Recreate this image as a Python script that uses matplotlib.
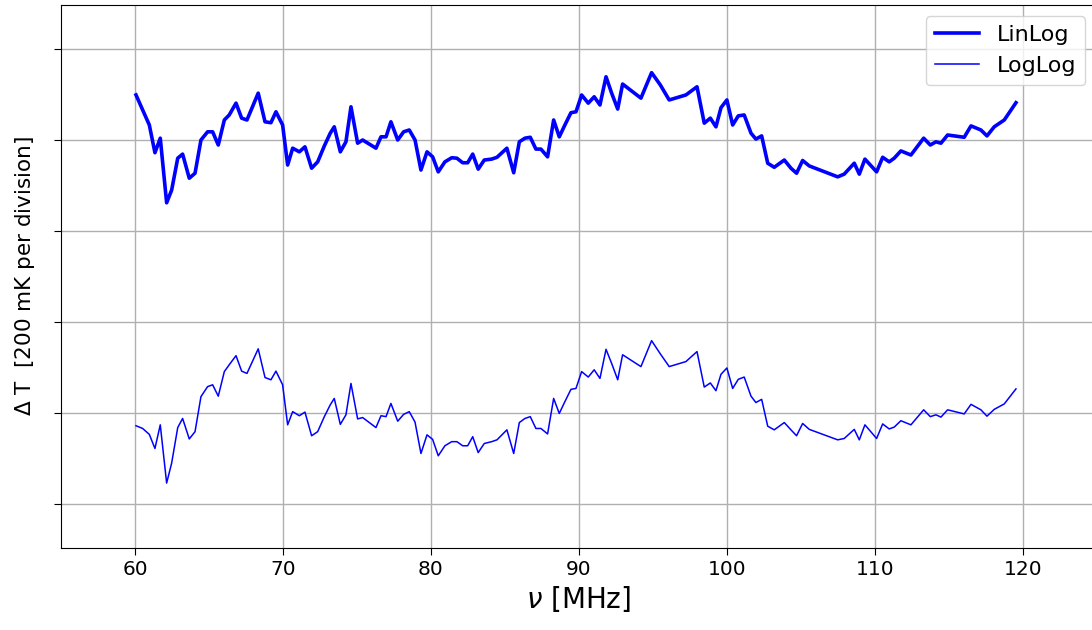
import matplotlib
matplotlib.use("Agg")
import matplotlib.pyplot as plt

# Frequency grid [MHz]
freq = [60.07, 60.52, 60.97, 61.35, 61.71, 62.14, 62.48, 62.89, 63.22, 63.67,
        64.06, 64.46, 64.91, 65.25, 65.63, 66.04, 66.37, 66.83, 67.21, 67.57,
        68.33, 68.79, 69.19, 69.53, 69.98, 70.32, 70.66, 71.11, 71.49, 71.94,
        72.35, 72.80, 73.20, 73.47, 73.88, 74.26, 74.60, 75.05, 75.39, 76.29,
        76.63, 76.97, 77.30, 77.76, 78.16, 78.54, 78.93, 79.33, 79.74, 80.12,
        80.50, 80.95, 81.41, 81.76, 82.15, 82.49, 82.83, 83.20, 83.61, 84.11,
        84.47, 85.14, 85.60, 85.98, 86.36, 86.72, 87.10, 87.44, 87.89, 88.30,
        88.68, 89.06, 89.47, 89.81, 90.19, 90.64, 91.04, 91.43, 91.84, 92.22,
        92.63, 92.96, 94.20, 94.92, 95.51, 96.11, 97.24, 97.99, 98.48, 98.89,
        99.27, 99.61, 100.01, 100.40, 100.78, 101.18, 101.64, 101.97, 102.36, 102.77,
        103.21, 103.89, 104.34, 104.72, 105.13, 105.58, 107.50, 107.94, 108.62, 108.96,
        109.34, 110.13, 110.54, 110.98, 111.32, 111.77, 112.45, 113.31, 113.76, 114.14,
        114.48, 114.93, 116.05, 116.51, 117.18, 117.59, 118.08, 118.76, 119.55]

# Residuals in mK (arbitrary offsets, 200 mK per grid division)
linlog = [899, 866, 833, 772, 804, 662, 690, 760, 769, 716,
          727, 800, 818, 818, 789, 844, 855, 881, 848, 844,
          903, 840, 838, 862, 833, 745, 782, 774, 785, 738,
          752, 787, 815, 829, 774, 796, 873, 793, 800, 782,
          807, 807, 840, 800, 818, 822, 800, 734, 774, 763,
          730, 752, 761, 760, 750, 750, 769, 736, 756, 758,
          762, 782, 728, 796, 804, 806, 780, 780, 763, 844,
          807, 833, 860, 862, 899, 881, 895, 877, 939, 903,
          868, 923, 892, 948, 921, 888, 899, 917, 837, 848,
          829, 871, 888, 833, 853, 855, 815, 802, 809, 749,
          740, 756, 738, 727, 755, 743, 719, 725, 749, 725,
          758, 730, 762, 752, 760, 776, 767, 804, 789, 796,
          793, 811, 806, 831, 822, 809, 829, 844, 882]

loglog = [172, 166, 153, 122, 174, 46, 90, 168, 188, 143,
          159, 236, 258, 262, 237, 291, 306, 326, 292, 287,
          341, 278, 273, 292, 262, 174, 203, 194, 202, 150,
          159, 192, 218, 232, 175, 196, 265, 187, 190, 168,
          194, 192, 221, 182, 197, 203, 180, 111, 152, 142,
          106, 128, 137, 137, 128, 128, 148, 113, 133, 137,
          141, 163, 111, 179, 188, 192, 166, 166, 154, 232,
          199, 225, 252, 254, 291, 279, 295, 276, 340, 309,
          273, 328, 302, 359, 330, 302, 313, 335, 257, 266,
          249, 285, 299, 254, 274, 279, 237, 223, 230, 171,
          163, 179, 163, 150, 177, 164, 141, 144, 164, 141,
          174, 144, 176, 165, 169, 183, 174, 207, 192, 196,
          191, 207, 198, 219, 207, 193, 208, 220, 253]

series_labels = ["LinLog", "LogLog"]
ytick_vals = [0, 200, 400, 600, 800, 1000]

W, H = 1092, 630
fig = plt.figure(figsize=(W / 100, H / 100), dpi=100)
ax = fig.add_axes([61 / W, 82 / H, 1035.6 / W, 543 / H])

ax.plot(freq, linlog, color="blue", lw=2.6, label=series_labels[0])
ax.plot(freq, loglog, color="blue", lw=1.1, label=series_labels[1])

ax.set_xlim(55, 125)
ax.set_ylim(-96.7, 1096.7)
ax.set_xticks([60, 70, 80, 90, 100, 110, 120])
ax.set_yticks(ytick_vals)
ax.set_yticklabels([])
ax.tick_params(axis="both", labelsize=14.5, length=5)
ax.grid(True, color="#b0b0b0", lw=1.0)

ax.set_xlabel(r"$\nu$ [MHz]", fontsize=20, labelpad=4)
ax.set_ylabel(r"$\Delta$ T  [200 mK per division]", fontsize=15.5, labelpad=9)

ax.legend(loc="upper right", fontsize=16)

fig.savefig("out.png", dpi=100)
